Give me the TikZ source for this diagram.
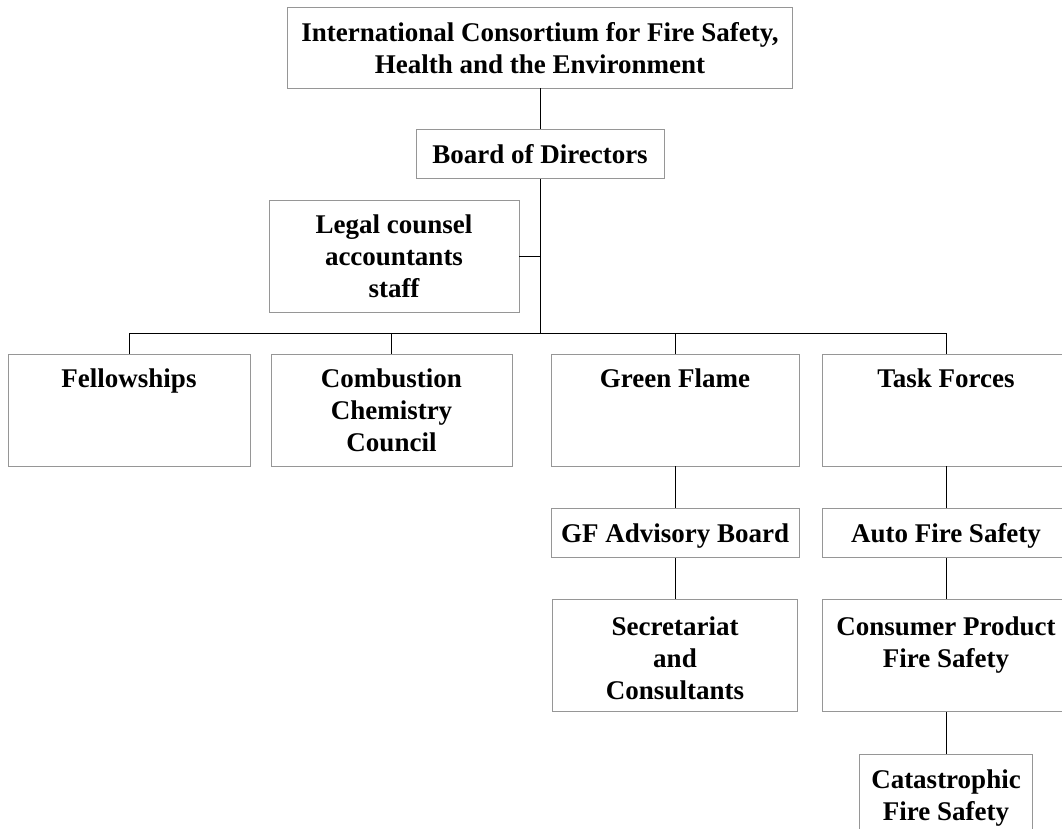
\documentclass[tikz,border=0pt]{standalone}
\usepackage{fontspec}
\setmainfont{Liberation Serif}
\usetikzlibrary{positioning}
\definecolor{boxgray}{RGB}{150,150,150}

\begin{document}
\begin{tikzpicture}[x=1pt, y=1pt, node distance=42pt]
	\tikzstyle{unit} = [draw=boxgray, line width=0.9pt, inner sep=0pt, minimum width=248pt, minimum height=112pt]
	\tikzstyle{flat} = [unit, minimum height=49pt]
	\tikzstyle{lbl} = [font=\fontsize{27}{32}\selectfont\bfseries, align=center, inner sep=0pt, anchor=north, yshift=-15pt]
	\tikzstyle{wire} = [black, line width=0.9pt]

	\useasboundingbox (0,0) rectangle (1062,-829);

	% head of the chart
	\node[unit, minimum width=505pt, minimum height=81pt,
		label={[lbl, yshift=-1pt]north:{International Consortium for Fire Safety,\\Health and the Environment}}] (icfs) at (540,-47.5) {};
	\node[flat, label={[lbl]north:{Board of Directors}}] (bod) at (540,-154) {};
	\node[unit, minimum width=250pt, label={[lbl]north:{Legal counsel\\accountants\\staff}}] (legal) at (394,-256) {};
	\coordinate (bus) at (540,-333);

	% second row
	\node[unit, minimum width=242pt, label={[lbl]north:{Fellowships}}] (fel) at (129,-410) {};
	\node[unit, minimum width=241pt, label={[lbl]north:{Combustion\\Chemistry\\Council}}] (ccc) at (391.5,-410) {};
	\node[unit, label={[lbl]north:{Green Flame}}] (gfl) at (675,-410) {};
	\node[unit, label={[lbl]north:{Task Forces}}] (tf) at (946,-410) {};

	% branches below
	\node[flat, below=of gfl, label={[lbl]north:{GF Advisory Board}}] (gfab) {};
	\node[unit, minimum width=245pt, below=41pt of gfab, label={[lbl, yshift=-2pt]north:{Secretariat\\and\\Consultants}}] (sec) {};
	\node[flat, below=of tf, label={[lbl]north:{Auto Fire Safety}}] (afs) {};
	\node[unit, below=41pt of afs, label={[lbl, yshift=-2pt]north:{Consumer Product\\Fire Safety}}] (cpfs) {};
	\node[unit, minimum width=173pt, below=of cpfs, label={[lbl]north:{Catastrophic\\Fire Safety}}] (cfs) {};

	% connectors
	\draw[wire] (icfs) -- (bod);
	\draw[wire] (bod) -- (bus);
	\draw[wire] (legal.east) -- (legal.east -| bus);
	\foreach \n in {fel, ccc, gfl, tf}
		\draw[wire] (\n.north) |- (bus);
	\draw[wire] (gfl) -- (gfab) (gfab) -- (sec);
	\draw[wire] (tf) -- (afs) (afs) -- (cpfs) (cpfs) -- (cfs);
\end{tikzpicture}
\end{document}
